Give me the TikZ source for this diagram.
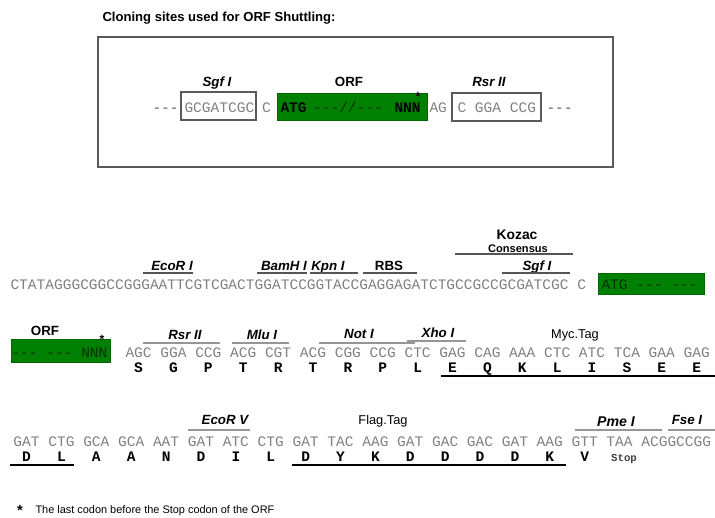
\documentclass[tikz,border=0pt]{standalone}
\usepackage{fontspec}
\setmainfont{Liberation Sans}
\setmonofont{Liberation Mono}
\usepackage{tikz}
\definecolor{seqgray}{RGB}{128,128,128}
\definecolor{linegray}{RGB}{150,150,150}
\definecolor{darkline}{RGB}{85,85,85}
\definecolor{boxgray}{RGB}{90,90,90}
\definecolor{orfgreen}{RGB}{0,128,0}
\definecolor{orftext}{RGB}{0,50,0}
\tikzset{every picture/.style={line width=0.75pt}}
\tikzset{
  seq/.style={anchor=base west, inner sep=0pt, text=seqgray, font=\ttfamily\fontsize{10.9}{13}\selectfont},
  aa/.style={anchor=base west, inner sep=0pt, font=\ttfamily\bfseries\fontsize{10.9}{13}\selectfont},
  enzyme/.style={anchor=base, inner sep=0pt, font=\bfseries\itshape\fontsize{10}{12}\selectfont},
  heading/.style={anchor=base, inner sep=0pt, font=\bfseries\fontsize{10}{12}\selectfont},
  tagname/.style={anchor=base, inner sep=0pt, font=\fontsize{9.6}{12}\selectfont},
  marker/.style={inner sep=0pt, font=\bfseries\fontsize{9}{10}\selectfont},
  siteline/.style={draw=linegray, line width=1.1pt},
  orfbox/.style={fill=orfgreen, draw=orfgreen!80!black, line width=0.5pt},
  sitebox/.style={draw=boxgray, line width=0.9pt},
}

\begin{document}
\begin{tikzpicture}[x=0.75pt,y=0.75pt,yscale=-1,xscale=1]
\path[use as bounding box] (0,0) rectangle (715,518);

% Text Node
\node[heading, anchor=base west, font=\bfseries\fontsize{9.8}{12}\selectfont] (title) at (102,21) {Cloning sites used for ORF Shuttling:};
%Shape: Rectangle
\draw[boxgray, line width=0.9pt] (98,37) rectangle (613,167);

%Shape: Rectangle
\draw[sitebox] (181,92) rectangle (256,120);
%Shape: Rectangle
\draw[orfbox] (277,93) rectangle (427,120);
%Shape: Rectangle
\draw[sitebox] (452,93) rectangle (541,121);
% Text Node
\node[seq, text=boxgray] (boxdashL) at (152,112) {---};
\node[seq] (boxsgf) at (184,112) {GCGATCGC};
\node[seq] (boxc) at (261.5,112) {C};
\node[aa] (boxatg) at (280,112) {ATG};
\node[seq, anchor=base, text=orftext] (boxgap) at (348,112) {---//---};
\node[aa] (boxnnn) at (394,112) {NNN};
\node[marker] (boxstar) at (418,96.5) {*};
\node[seq] (boxag) at (429,112) {AG};
\node[seq] (boxrsr) at (457,112) {C GGA CCG};
\node[seq, text=boxgray] (boxdashR) at (546,112) {---};
% Text Node
\node[enzyme] (lblsgfA) at (217,86) {Sgf I};
\node[heading] (lblorfA) at (349,86) {ORF};
\node[enzyme] (lblrsrA) at (489,86) {Rsr II};

% first line of the sequence
\node[seq] (seqA) at (10,289) {CTATAGGGCGGCCGGGAATTCGTCGACTGGATCCGGTACCGAGGAGATCTGCCGCCGCGATCGC C};
%Shape: Rectangle
\draw[orfbox] (598,273) rectangle (704,294);
\node[seq, text=orftext] (orfA) at (601,289) {ATG --- ---};
% Text Node
\node[enzyme] (lblecori) at (172,270) {EcoR I};
\node[enzyme] (lblbamhi) at (284,270) {BamH I};
\node[enzyme] (lblkpni) at (328,270) {Kpn I};
\node[heading] (lblrbs) at (389,270) {RBS};
\node[enzyme] (lblsgfB) at (537,270) {Sgf I};
\node[heading, font=\bfseries\fontsize{10.4}{12}\selectfont] (lblkozac) at (517,239) {Kozac};
\node[heading, font=\bfseries\fontsize{8.3}{10}\selectfont] (lblconsensus) at (518,252) {Consensus};
%Straight Lines
\draw[siteline, draw=darkline] (143,273) -- (193,273);
\draw[siteline, draw=darkline] (257,273) -- (307,273);
\draw[siteline, draw=darkline] (310,273) -- (358,273);
\draw[siteline, draw=darkline] (363,273) -- (417,273);
\draw[siteline, draw=darkline] (502,273) -- (570,273);
\draw[siteline, draw=darkline] (455,254) -- (573,254);

% second line of the sequence
%Shape: Rectangle
\draw[orfbox] (11,339) rectangle (110,362);
\node[seq, text=orftext] (orfB) at (11,357) {--- --- NNN};
\node[marker] (orfstar) at (102,339) {*};
\node[heading] (lblorfB) at (45,335) {ORF};
\node[seq] (seqB) at (125,357) {AGC GGA CCG ACG CGT ACG CGG CCG CTC GAG CAG AAA CTC ATC TCA GAA GAG};
\node[aa] (aaB) at (133.72,372) {S~~~G~~~P~~~T~~~R~~~T~~~R~~~P~~~L~~~E~~~Q~~~K~~~L~~~I~~~S~~~E~~~E};
% Text Node
\node[enzyme] (lblrsrB) at (185,339) {Rsr II};
\node[enzyme] (lblmlui) at (262,339) {Mlu I};
\node[enzyme] (lblnoti) at (359,338) {Not I};
\node[enzyme] (lblxhoi) at (438,337) {Xho I};
\node[tagname] (lblmyc) at (575,338) {Myc.Tag};
%Straight Lines
\draw[siteline] (143,343) -- (220,343);
\draw[siteline] (232,343) -- (289,343);
\draw[siteline] (319,343) -- (415,343);
\draw[siteline] (407,341) -- (466,341);
\draw[line width=1.2pt] (441,376) -- (715,376);

% third line of the sequence
\node[seq] (seqC) at (13,446) {GAT CTG GCA GCA AAT GAT ATC CTG GAT TAC AAG GAT GAC GAC GAT AAG GTT TAA ACGGCCGG};
\node[aa] (aaC) at (21.72,461) {D~~~L~~~A~~~A~~~N~~~D~~~I~~~L~~~D~~~Y~~~K~~~D~~~D~~~D~~~D~~~K~~~V};
\node[anchor=base, inner sep=0pt, text=black!75, font=\ttfamily\bfseries\fontsize{8}{10}\selectfont] (stop) at (624,461) {Stop};
% Text Node
\node[enzyme] (lblecorv) at (225,424) {EcoR V};
\node[tagname] (lblflag) at (383,424) {Flag.Tag};
\node[enzyme, font=\bfseries\itshape\fontsize{10.6}{12}\selectfont] (lblpmei) at (616,426) {Pme I};
\node[enzyme] (lblfsei) at (687,424) {Fse I};
%Straight Lines
\draw[siteline] (188,430) -- (250,430);
\draw[siteline] (575,430) -- (662,430);
\draw[siteline] (668,430) -- (715,430);
\draw[line width=1.2pt] (10,465) -- (74,465);
\draw[line width=1.2pt] (292,465) -- (566,465);

% footnote
\node[marker, font=\bfseries\fontsize{11}{12}\selectfont] (notestar) at (20,510) {*};
\node[anchor=base west, inner sep=0pt, font=\fontsize{8.2}{10}\selectfont] (note) at (35,513) {The last codon before the Stop codon of the ORF};

\end{tikzpicture}
\end{document}
